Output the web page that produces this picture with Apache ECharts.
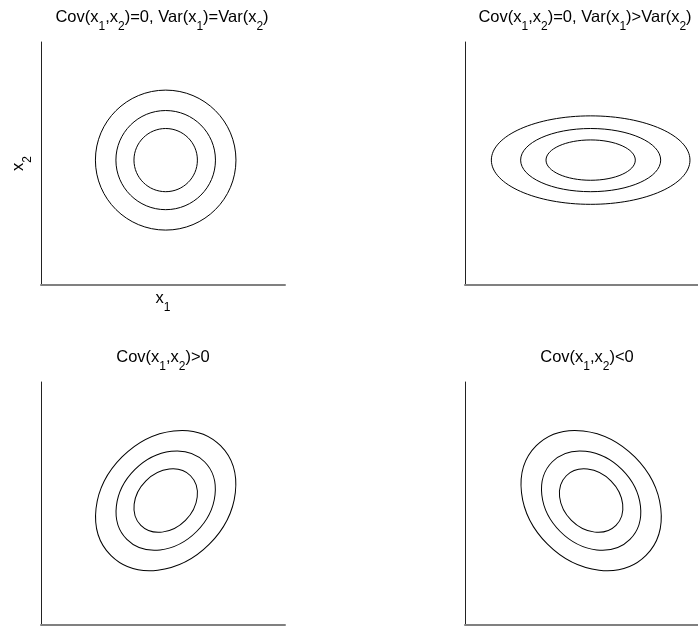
<!DOCTYPE html>
<html><head><meta charset="utf-8">
<script src="https://cdn.jsdelivr.net/npm/echarts@6/dist/echarts.min.js"></script>
<style>html,body{margin:0;padding:0;background:#fff}#c{width:698px;height:626px}</style>
</head><body><div id="c"></div>
<script>
// ---- data ----
const panelTitles = [
  '{n|Cov(x}{s|1}{n|,x}{s|2}{n|)=0, Var(x}{s|1}{n|)=Var(x}{s|2}{n|)}',
  '{n|Cov(x}{s|1}{n|,x}{s|2}{n|)=0, Var(x}{s|1}{n|)>Var(x}{s|2}{n|)}',
  '{n|Cov(x}{s|1}{n|,x}{s|2}{n|)>0}',
  '{n|Cov(x}{s|1}{n|,x}{s|2}{n|)<0}'
];
const xAxisName = '{n|x}{s|1}';
const yAxisName = '{n|x}{s|2}';
const axisRange = [0, 10];
// contour ellipses: [centre x1, centre x2, semi-axis a, semi-axis b, tilt in degrees]
const contoursEqualVar = [
  [5.11, 5.14, 2.88, 2.88, 0],
  [5.11, 5.14, 2.04, 2.04, 0],
  [5.11, 5.14, 1.30, 1.30, 0]
];
const contoursUnequalVar = [
  [5.15, 5.14, 4.07, 1.82, 0],
  [5.15, 5.14, 2.87, 1.30, 0],
  [5.15, 5.14, 1.83, 0.83, 0]
];
const contoursPosCov = [
  [5.11, 5.12, 3.18, 2.54, 45],
  [5.11, 5.12, 2.25, 1.80, 45],
  [5.11, 5.12, 1.44, 1.15, 45]
];
const contoursNegCov = [
  [5.17, 5.12, 3.18, 2.54, -45],
  [5.17, 5.12, 2.25, 1.80, -45],
  [5.17, 5.12, 1.44, 1.15, -45]
];

// ---- layout / style ----
const FONT = 'Liberation Sans, Arial, Helvetica, sans-serif';
const rich = {
  n: { fontFamily: FONT, fontSize: 16.5, lineHeight: 18, verticalAlign: 'top', color: '#000', fontWeight: 'normal' },
  s: { fontFamily: FONT, fontSize: 12, lineHeight: 12, verticalAlign: 'top', color: '#000', fontWeight: 'normal', padding: [12, 0, 0, 0] }
};
const grids = [
  { left: 41, top: 42 }, { left: 465, top: 42 },
  { left: 41, top: 382 }, { left: 465, top: 382 }
];
const titleCenters = [162, 585, 163, 587];
const titleTops = [9, 9, 349, 349];
const panelData = [contoursEqualVar, contoursUnequalVar, contoursPosCov, contoursNegCov];

const chart = echarts.init(document.getElementById('c'), null, { renderer: 'canvas' });
chart.setOption({
  animation: false,
  backgroundColor: '#fff',
  title: panelTitles.map((t, i) => ({
    text: t, left: titleCenters[i], top: titleTops[i], textAlign: 'center', padding: 0,
    textStyle: { fontFamily: FONT, fontSize: 16, fontWeight: 'normal', color: '#000', rich }
  })),
  grid: grids.map(g => ({ left: g.left, top: g.top, width: 244, height: 243, outerBoundsMode: 'none', containLabel: false })),
  xAxis: grids.map((g, i) => ({
    type: 'value', gridIndex: i, min: axisRange[0], max: axisRange[1],
    axisLine: { show: true, onZero: false, lineStyle: { color: '#808080', width: 2 } },
    axisTick: { show: false }, axisLabel: { show: false }, splitLine: { show: false },
    name: i === 0 ? xAxisName : '', nameLocation: 'middle', nameGap: 5,
    nameTextStyle: { rich }
  })),
  yAxis: grids.map((g, i) => ({
    type: 'value', gridIndex: i, min: axisRange[0], max: axisRange[1],
    axisLine: { show: true, onZero: false, lineStyle: { color: '#222', width: 1 } },
    axisTick: { show: false }, axisLabel: { show: false }, splitLine: { show: false },
    name: i === 0 ? yAxisName : '', nameLocation: 'middle', nameGap: 13,
    nameTextStyle: { rich }
  })),
  series: panelData.map((data, i) => ({
    type: 'custom', xAxisIndex: i, yAxisIndex: i, silent: true,
    encode: { x: 0, y: 1 },
    data: data,
    renderItem: function (params, api) {
      const c = api.coord([api.value(0), api.value(1)]);
      const s = api.size([api.value(2), api.value(3)]);
      return {
        type: 'ellipse',
        x: c[0], y: c[1],
        rotation: api.value(4) * Math.PI / 180,
        shape: { cx: 0, cy: 0, rx: s[0], ry: s[1] },
        style: { fill: null, stroke: '#000', lineWidth: 1 }
      };
    }
  }))
});
</script>
</body></html>
